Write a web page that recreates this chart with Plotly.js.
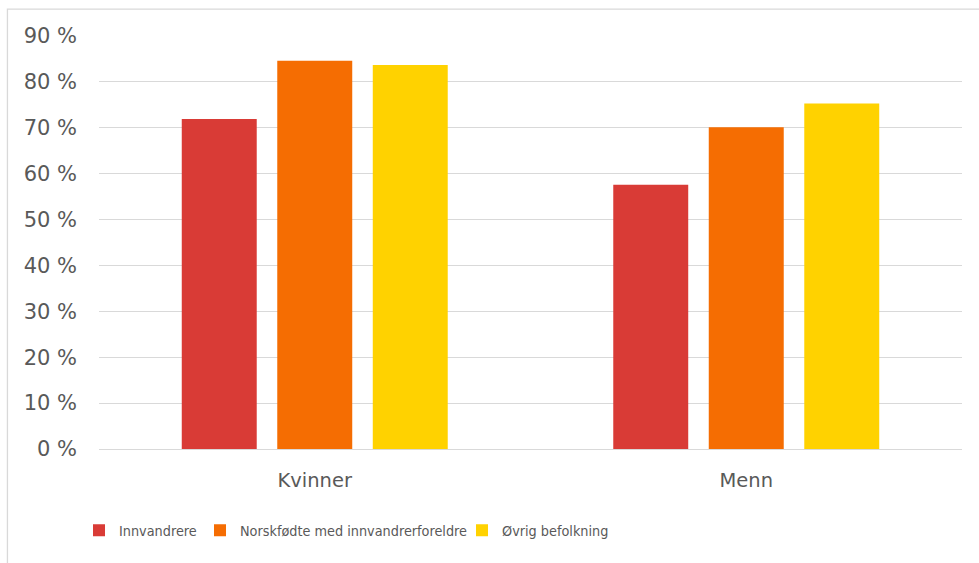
<!DOCTYPE html>
<html>
<head>
<meta charset="utf-8">
<script src="https://cdn.plot.ly/plotly-3.0.1.min.js"></script>
<style>html,body{margin:0;padding:0;background:#fff;}#chart{width:979px;height:563px;}</style>
</head>
<body>
<div id="chart"></div>
<script>
const categories = ["Kvinner", "Menn"];
const seriesNames = ["Innvandrere", "Norskfødte med innvandrerforeldre", "Øvrig befolkning"];
const innvandrere = [71.9, 57.6];
const norskfodte = [84.6, 70.1];
const ovrig = [83.7, 75.3];
const tickValues = [0, 10, 20, 30, 40, 50, 60, 70, 80, 90];
const tickLabels = ["0 %", "10 %", "20 %", "30 %", "40 %", "50 %", "60 %", "70 %", "80 %", "90 %"];

const colors = ["#D93B36", "#F56D02", "#FFD200"];
const legendWidths = [76, 217, 140];
const seriesValues = [innvandrere, norskfodte, ovrig];

const traces = seriesNames.map((name, i) => ({
  type: "bar",
  name: name,
  x: categories,
  y: seriesValues[i],
  marker: { color: colors[i], line: { width: 0 } },
  legendwidth: legendWidths[i],
  hoverinfo: "x+y+name"
}));

const textColor = "#595959";
const layout = {
  width: 979,
  height: 563,
  paper_bgcolor: "#ffffff",
  plot_bgcolor: "#ffffff",
  margin: { l: 99, r: 17, t: 36, b: 113.5, pad: 0 },
  barmode: "group",
  bargap: 0.336,
  bargroupgap: 0.215,
  font: { family: "DejaVu Sans, Verdana, sans-serif", color: textColor, size: 20 },
  xaxis: {
    type: "category",
    showgrid: false,
    showline: false,
    zeroline: false,
    ticks: "",
    ticklabelstandoff: 17,
    tickfont: { family: "DejaVu Sans, Verdana, sans-serif", size: 19.5, color: textColor }
  },
  yaxis: {
    range: [0, 90],
    tickvals: tickValues,
    ticktext: tickLabels,
    showgrid: true,
    gridcolor: "#d9d9d9",
    gridwidth: 1,
    zeroline: true,
    zerolinecolor: "#d9d9d9",
    zerolinewidth: 1,
    showline: false,
    ticks: "",
    ticklabelstandoff: 21,
    tickfont: { family: "DejaVu Sans, Verdana, sans-serif", size: 21, color: textColor }
  },
  showlegend: true,
  legend: {
    orientation: "h",
    xref: "container",
    yref: "container",
    x: 0.0807,
    xanchor: "left",
    y: 0.058,
    yanchor: "middle",
    traceorder: "normal",
    bgcolor: "rgba(0,0,0,0)",
    font: { family: "DejaVu Sans Condensed, Liberation Sans Narrow, Arial Narrow, sans-serif", size: 14.3, color: textColor }
  },
  shapes: [{
    type: "rect",
    xref: "paper",
    yref: "paper",
    x0: -0.1061, x1: 1.2,
    y0: -0.4, y1: 1.0653,
    line: { color: "#d9d9d9", width: 1.3 },
    fillcolor: "rgba(0,0,0,0)",
    layer: "below"
  }]
};

Plotly.newPlot("chart", traces, layout, { displayModeBar: false, staticPlot: false });
</script>
</body>
</html>
